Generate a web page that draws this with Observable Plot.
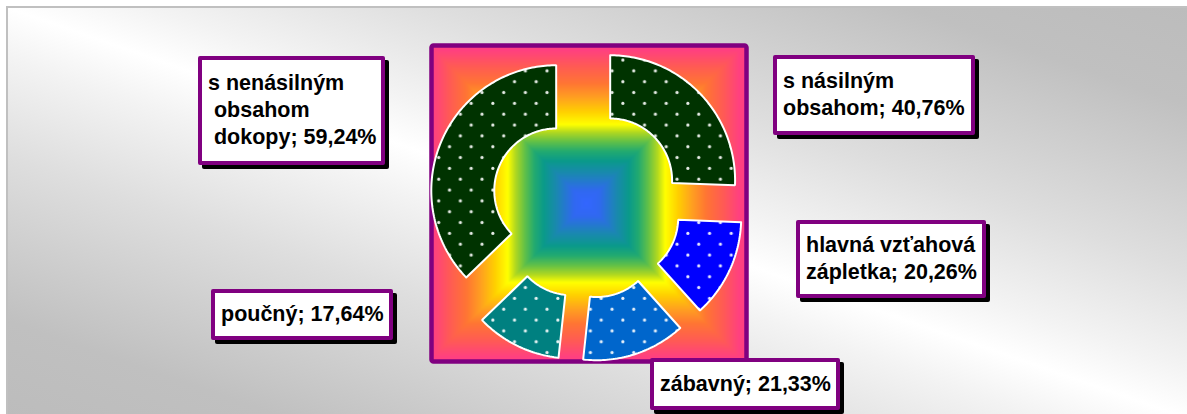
<!DOCTYPE html>
<html><head><meta charset="utf-8">
<script src="https://cdn.jsdelivr.net/npm/d3@7"></script>
<script src="https://cdn.jsdelivr.net/npm/@observablehq/plot@0.6"></script>
<style>
html,body{margin:0;padding:0;background:#fff;}
#wrap{position:relative;width:1187px;height:414px;overflow:hidden;font-family:"Liberation Sans",Arial,sans-serif;}
#bg{position:absolute;left:6px;top:6px;width:1185px;height:412px;border:2px solid #c0c0c0;
  background:linear-gradient(to bottom left,#bcbcbc 0%,#c0c0c0 12%,#dedede 32%,#f3f3f3 44%,#ffffff 50%,#f3f3f3 56%,#dedede 68%,#c0c0c0 88%,#bcbcbc 100%);}
#chart{position:absolute;left:0;top:0;}
.lbl{position:absolute;box-sizing:border-box;background:#fff;border:4px solid #800080;border-radius:2px;
  box-shadow:4px 4px 0 #000;font-weight:bold;font-size:21.5px;line-height:27px;padding-left:6px;color:#000;
  display:flex;flex-direction:column;justify-content:center;white-space:pre;}
</style>
</head><body>
<div id="wrap"><div id="bg"></div><div id="chart"></div></div>
<script>
// ---- data ----
const categories = ["s násilným obsahom", "hlavná vzťahová zápletka", "zábavný", "poučný", "s nenásilným obsahom dokopy"];
const values = [40.76, 20.26, 21.33, 17.64, 59.24];
// words per line of each data label
const labelWordsPerLine = [[2, 2], [2, 2], [2], [2], [2, 1, 2]];

// ---- styles / layout ----
const sliceColors = ["#003300", "#0000ff", "#0066cc", "#008080", "#003300"];
const labelBoxes = [
  {left: 773, top: 55, w: 202, h: 80, indent: false},
  {left: 796, top: 220, w: 190, h: 78, indent: false},
  {left: 650, top: 358, w: 190, h: 52, indent: false},
  {left: 211, top: 289, w: 182, h: 51, indent: false},
  {left: 198, top: 56, w: 187, h: 109, indent: true}
];
const gradT = [0, 0.08, 0.19, 0.27, 0.33, 0.39, 0.45, 0.50, 0.58, 0.67, 0.76, 0.87, 0.97, 1];
const gradColors = ["#3366ff", "#3068f0", "#1a88b0", "#0a9a8a", "#22aa70", "#60c048", "#b0d820", "#ffff00",
  "#ffd000", "#ffa020", "#ff7533", "#ff5a55", "#ff4080", "#ff4080"];
const CX = -0.016, CY = 0, R = 0.793, RIN = 0.393, EXPLODE = 0.209;

// ---- geometry from data ----
const total = d3.sum(values);
let acc = 0;
const slices = values.map((v, i) => {
  const a0 = acc / total * 2 * Math.PI; acc += v;
  const a1 = acc / total * 2 * Math.PI;
  return {i, a0, a1};
});
function slicePoints(s) {
  const mid = (s.a0 + s.a1) / 2;
  const ox = CX + EXPLODE * Math.sin(mid), oy = CY + EXPLODE * Math.cos(mid);
  const n = Math.max(8, Math.ceil((s.a1 - s.a0) / (Math.PI / 180)));
  const pts = [];
  for (let k = 0; k <= n; k++) { const a = s.a0 + (s.a1 - s.a0) * k / n; pts.push({x: ox + R * Math.sin(a), y: oy + R * Math.cos(a)}); }
  for (let k = n; k >= 0; k--) { const a = s.a0 + (s.a1 - s.a0) * k / n; pts.push({x: ox + RIN * Math.sin(a), y: oy + RIN * Math.cos(a)}); }
  pts.push(pts[0]);
  return pts;
}

const defsMark = () => {
  const defs = d3.create("svg:defs");
  const blur = defs.append("filter").attr("id", "dotblur");
  blur.append("feGaussianBlur").attr("stdDeviation", 0.35);
  sliceColors.forEach((c, i) => {
    const p = defs.append("pattern").attr("id", "pat" + i).attr("patternUnits", "userSpaceOnUse")
      .attr("width", 21.67).attr("height", 21.67);
    p.append("rect").attr("width", 21.67).attr("height", 21.67).attr("fill", c);
    p.append("circle").attr("cx", 4.8).attr("cy", 5.4).attr("r", 1.6).attr("fill", "#fff").attr("fill-opacity", 0.9).attr("filter", "url(#dotblur)");
    p.append("circle").attr("cx", 15.6).attr("cy", 16.2).attr("r", 1.6).attr("fill", "#fff").attr("fill-opacity", 0.9).attr("filter", "url(#dotblur)");
  });
  return defs.node();
};

const chart = Plot.plot({
  width: 1187, height: 414,
  marginLeft: 431, marginRight: 441, marginTop: 45, marginBottom: 53,
  x: {domain: [-1, 1], axis: null},
  y: {domain: [-1, 1], axis: null},
  color: {type: "linear", domain: gradT, range: gradColors, clamp: true},
  style: {background: "transparent", overflow: "visible"},
  marks: [
    defsMark,
    Plot.raster({x1: -1, x2: 1, y1: -1, y2: 1, pixelSize: 1,
      fill: (x, y) => Math.max(Math.abs(x - CX), Math.abs(y - CY))}),
    Plot.frame({stroke: "#800080", strokeWidth: 4.5, rx: 2}),
    ...slices.map(s => Plot.line(slicePoints(s), {x: "x", y: "y", fill: `url(#pat${s.i})`,
      stroke: "#ffffff", strokeWidth: 2, strokeLinejoin: "miter"}))
  ]
});
document.getElementById("chart").appendChild(chart);

// ---- data labels ----
const fmt = v => v.toFixed(2).replace(".", ",");
const wrap = document.getElementById("wrap");
categories.forEach((c, i) => {
  const words = `${c}; ${fmt(values[i])}%`.split(" ");
  const box = labelBoxes[i];
  const div = document.createElement("div");
  div.className = "lbl";
  Object.assign(div.style, {left: box.left + "px", top: box.top + "px", width: box.w + "px", height: box.h + "px"});
  let w = 0;
  labelWordsPerLine[i].forEach((n, li) => {
    const line = document.createElement("div");
    line.textContent = (li > 0 && box.indent ? " " : "") + words.slice(w, w + n).join(" ");
    w += n;
    div.appendChild(line);
  });
  wrap.appendChild(div);
});
</script>
</body></html>
